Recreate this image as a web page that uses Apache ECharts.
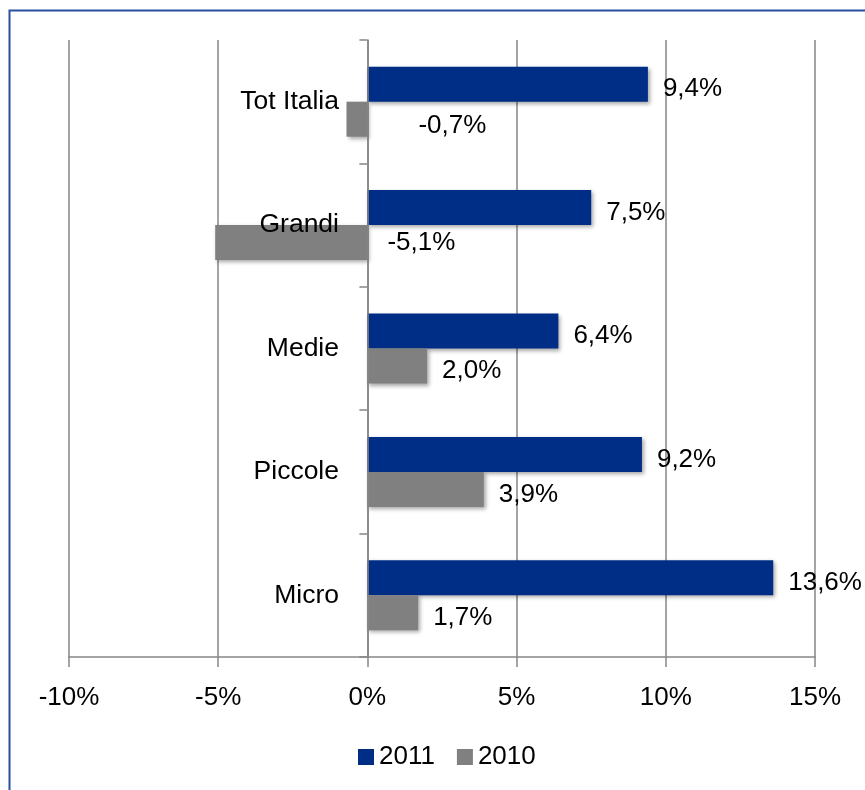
<!DOCTYPE html>
<html>
<head>
<meta charset="utf-8">
<style>
  html, body { margin: 0; padding: 0; background: #ffffff; }
  #chart { width: 865px; height: 790px; }
</style>
<script src="https://cdn.jsdelivr.net/npm/echarts@6/dist/echarts.min.js"></script>
</head>
<body>
<div id="chart"></div>
<script>
// Growth by company size, 2011 vs 2010
const categories = ['Tot Italia', 'Grandi', 'Medie', 'Piccole', 'Micro'];
const values2011 = [9.4, 7.5, 6.4, 9.2, 13.6];
const values2010 = [-0.7, -5.1, 2.0, 3.9, 1.7];
const xTicks = [-10, -5, 0, 5, 10, 15];

const FONT = '"Liberation Sans", Arial, sans-serif';
const FS = 26;
const fmt = v => v.toFixed(1).replace('.', ',') + '%';

// labels of negative bars sit to the right of the zero line
function labelFor(v, i) {
  const lbl = { show: true, position: 'right', distance: 15, offset: [0, 5] };
  if (v < 0) {
    lbl.offset = i === 0 ? [36, 7] : [5, 0];
  }
  return lbl;
}

const barShadow = {
  shadowColor: 'rgba(0,0,0,0.35)',
  shadowBlur: 4,
  shadowOffsetX: 2,
  shadowOffsetY: 2
};

const GRID_LEFT = 69;
const ZERO_X = 368; // pixel position of 0% (category labels sit just left of it)

const chart = echarts.init(document.getElementById('chart'), null, { renderer: 'canvas' });

chart.setOption({
  backgroundColor: '#ffffff',
  animation: false,
  textStyle: { fontFamily: FONT },
  graphic: [{
    type: 'rect',
    shape: { x: 9.5, y: 10.5, width: 900, height: 900 },
    style: { fill: 'none', stroke: '#264f9f', lineWidth: 2 },
    z: 100
  }],
  legend: {
    data: ['2011', '2010'],
    top: 739,
    left: 353,
    itemWidth: 16,
    itemHeight: 16,
    itemGap: 22,
    icon: 'rect',
    textStyle: { fontSize: FS, color: '#000', fontFamily: FONT }
  },
  grid: {
    left: GRID_LEFT, right: 50, top: 40, bottom: 133,
    containLabel: false,
    outerBoundsMode: 'none'
  },
  xAxis: {
    type: 'value',
    min: xTicks[0],
    max: xTicks[xTicks.length - 1],
    interval: 5,
    axisLine: { show: true, lineStyle: { color: '#868686', width: 1.5 } },
    axisTick: { show: true, length: 10, lineStyle: { color: '#868686', width: 1.5 } },
    axisLabel: {
      margin: 28,
      fontSize: FS,
      color: '#000',
      fontFamily: FONT,
      formatter: v => v + '%'
    },
    splitLine: { show: true, lineStyle: { color: '#868686', width: 1.5 } }
  },
  yAxis: {
    type: 'category',
    data: categories,
    inverse: true,
    axisLine: { show: true, onZero: true, lineStyle: { color: '#868686', width: 1.5 } },
    axisTick: { show: true, length: 8, lineStyle: { color: '#868686', width: 1.5 } },
    axisLabel: {
      margin: GRID_LEFT - (ZERO_X - 29),
      fontSize: 26.5, color: '#000', fontFamily: FONT
    },
    splitLine: { show: false },
    z: 10
  },
  series: [
    {
      name: '2011',
      type: 'bar',
      barWidth: 35,
      barGap: '0%',
      itemStyle: Object.assign({ color: '#002e87' }, barShadow),
      label: { color: '#000', fontSize: FS, fontFamily: FONT, formatter: p => fmt(p.value) },
      data: values2011.map((v, i) => ({ value: v, label: labelFor(v, i) }))
    },
    {
      name: '2010',
      type: 'bar',
      barWidth: 35,
      barGap: '0%',
      itemStyle: Object.assign({ color: '#808080' }, barShadow),
      label: { color: '#000', fontSize: FS, fontFamily: FONT, formatter: p => fmt(p.value) },
      data: values2010.map((v, i) => ({ value: v, label: labelFor(v, i) }))
    }
  ]
});
</script>
</body>
</html>
